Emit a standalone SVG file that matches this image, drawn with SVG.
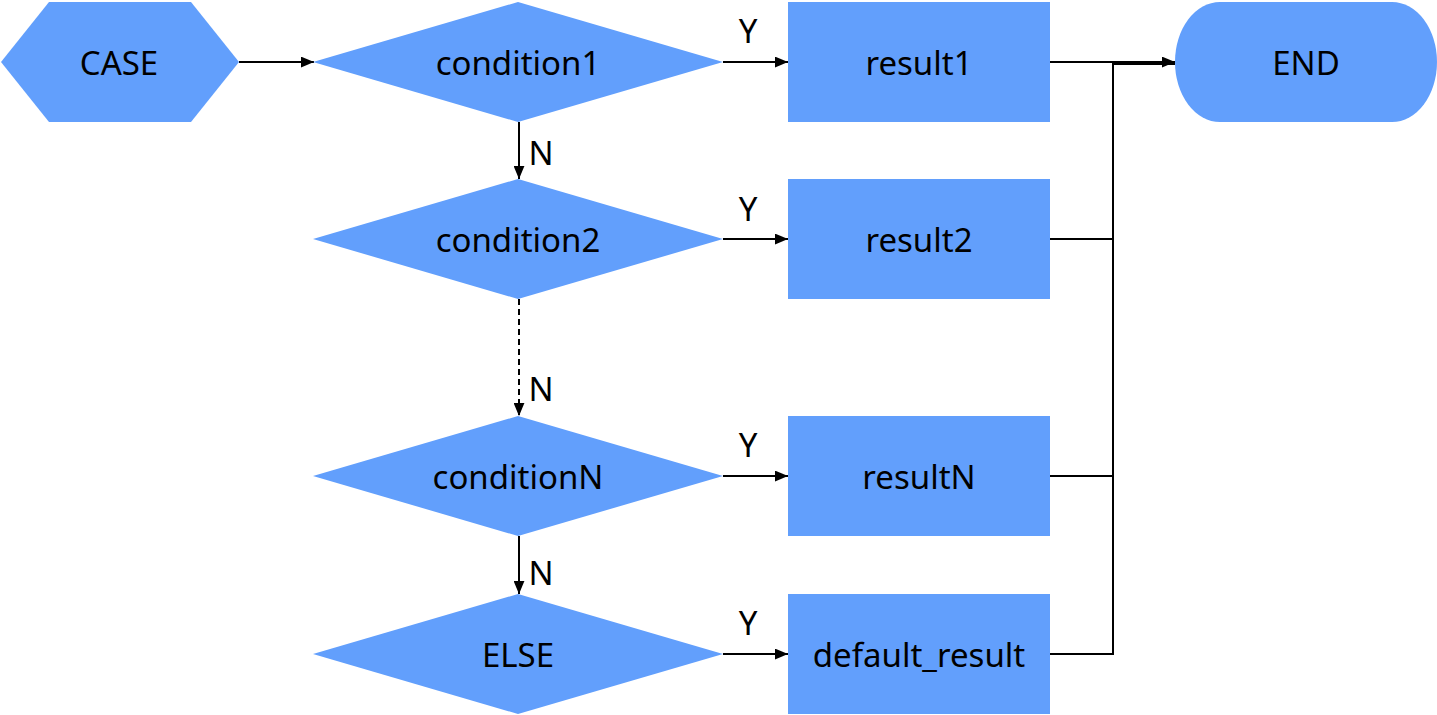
<svg xmlns="http://www.w3.org/2000/svg" width="1437" height="715" viewBox="0 0 1437 715">
<style>
.n{fill:#629FFC;stroke:none}
.t{font-family:"Noto Sans","Open Sans",sans-serif;font-size:33px;fill:#000;text-anchor:middle;dominant-baseline:central}
.c{fill:none;stroke:#000;stroke-width:2}
</style>
<defs>
<marker id="ah" viewBox="0 0 12 10" refX="12" refY="5" markerWidth="13" markerHeight="11" markerUnits="userSpaceOnUse" orient="auto"><path d="M0,0L12,5L0,10Z" fill="#000"/></marker>
</defs>
<rect width="1437" height="715" fill="#fff"/>
<g id="connectors">
<path class="c" d="M239,62H314" marker-end="url(#ah)"/>
<path class="c" d="M723,62H788" marker-end="url(#ah)"/>
<path class="c" d="M723,239H788" marker-end="url(#ah)"/>
<path class="c" d="M723,476H788" marker-end="url(#ah)"/>
<path class="c" d="M723,654H788" marker-end="url(#ah)"/>
<path class="c" d="M519,122V179" marker-end="url(#ah)"/>
<path class="c" d="M519,299V416" stroke-dasharray="6,4" marker-end="url(#ah)"/>
<path class="c" d="M519,536V594" marker-end="url(#ah)"/>
<path class="c" d="M1050,62H1175" marker-end="url(#ah)"/>
<path class="c" d="M1050,239H1113V64H1175"/>
<path class="c" d="M1050,476H1113"/>
<path class="c" d="M1050,654H1113V239"/>
<text class="t" x="748" y="30">Y</text>
<text class="t" x="748" y="208">Y</text>
<text class="t" x="748" y="444">Y</text>
<text class="t" x="748" y="622">Y</text>
<text class="t" x="541" y="152">N</text>
<text class="t" x="541" y="388">N</text>
<text class="t" x="541" y="572">N</text>
</g>
<g id="case"><polygon class="n" points="1,62 49,2 191,2 239,62 191,122 49,122"/><text class="t" x="119" y="62">CASE</text></g>
<g id="condition1"><polygon class="n" points="313,62 518,2 723,62 518,122"/><text class="t" x="518" y="62">condition1</text></g>
<g id="condition2"><polygon class="n" points="313,239 518,179 723,239 518,299"/><text class="t" x="518" y="239">condition2</text></g>
<g id="conditionN"><polygon class="n" points="313,476 518,416 723,476 518,536"/><text class="t" x="518" y="476">conditionN</text></g>
<g id="else"><polygon class="n" points="313,654 518,594 723,654 518,714"/><text class="t" x="518" y="654">ELSE</text></g>
<g id="result1"><rect class="n" x="788" y="2" width="262" height="120"/><text class="t" x="919" y="62">result1</text></g>
<g id="result2"><rect class="n" x="788" y="179" width="262" height="120"/><text class="t" x="919" y="239">result2</text></g>
<g id="resultN"><rect class="n" x="788" y="416" width="262" height="120"/><text class="t" x="919" y="476">resultN</text></g>
<g id="default_result"><rect class="n" x="788" y="594" width="262" height="120"/><text class="t" x="919" y="654">default_result</text></g>
<g id="end"><rect class="n" x="1175" y="2" width="262" height="120" rx="45" ry="60"/><text class="t" x="1306" y="62">END</text></g>
</svg>
